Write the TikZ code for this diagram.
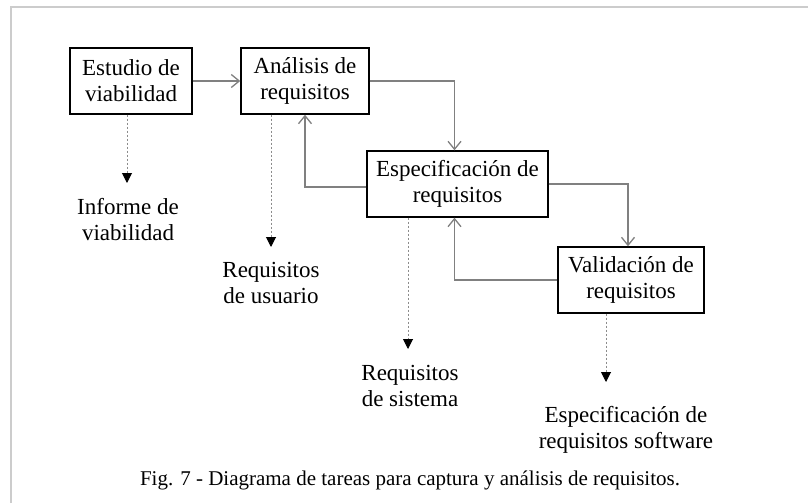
\documentclass[tikz,border=0pt]{standalone}
\usepackage{fontspec}
\setmainfont{Liberation Serif}
\usetikzlibrary{arrows.meta}
\begin{document}
\begin{tikzpicture}[x=1pt,y=-1pt,
 box/.style={draw=black,line width=1.4pt,minimum height=66pt,inner sep=0pt,align=center,font=\fontsize{23}{26}\selectfont},
 lbl/.style={align=center,inner sep=0pt,font=\fontsize{23}{26}\selectfont},
 flow/.style={draw=black!50,line width=1.3pt,-{Straight Barb[length=8pt,width=13pt]}},
 outp/.style={draw=black!45,line width=1pt,dash pattern=on 2pt off 2pt,-{Triangle[length=10pt,width=10pt,color=black]}},
 framec/.style={draw=black!20,line width=1.5pt}]
\useasboundingbox (0,0) rectangle (808,503);
\draw[framec] (11,503) -- (11,7) -- (808,7);
\node[box,minimum width=122pt] (est) at (131,81) {Estudio de\\viabilidad};
\node[box,minimum width=128pt] (ana) at (305,81) {Análisis de\\requisitos};
\node[box,minimum width=181pt] (esp) at (457.5,184) {Especificación de\\requisitos};
\node[box,minimum width=146pt] (val) at (631,280) {Validación de\\requisitos};
\node[lbl] (inf) at (128,220) {Informe de\\viabilidad};
\node[lbl] (rus) at (271,283) {Requisitos\\de usuario};
\node[lbl] (rsi) at (410,386) {Requisitos\\de sistema};
\node[lbl] (ers) at (626,430) {Especificación de\\requisitos software};
\node[lbl,font=\fontsize{21}{24}\selectfont] (cap) at (410,480) {Fig. 7 - Diagrama de tareas para captura y análisis de requisitos.};
\coordinate (t1) at (127,183);
\coordinate (t2) at (271,247);
\coordinate (t3) at (408,349);
\coordinate (t4) at (606,382);
\draw[outp] (est.south -| t1) -- (t1);
\draw[outp] (ana.south -| t2) -- (t2);
\draw[outp] (esp.south -| t3) -- (t3);
\draw[outp] (val.south -| t4) -- (t4);
\draw[flow] (est) -- (ana);
\draw[flow] (ana.east) -| ([xshift=-3pt]esp.north);
\draw[flow] ([yshift=-3pt]esp.west) -| (ana.south);
\draw[flow] (esp.east) -| ([xshift=-3pt]val.north);
\draw[flow] (val.west) -| ([xshift=-3pt]esp.south);
\end{tikzpicture}
\end{document}
